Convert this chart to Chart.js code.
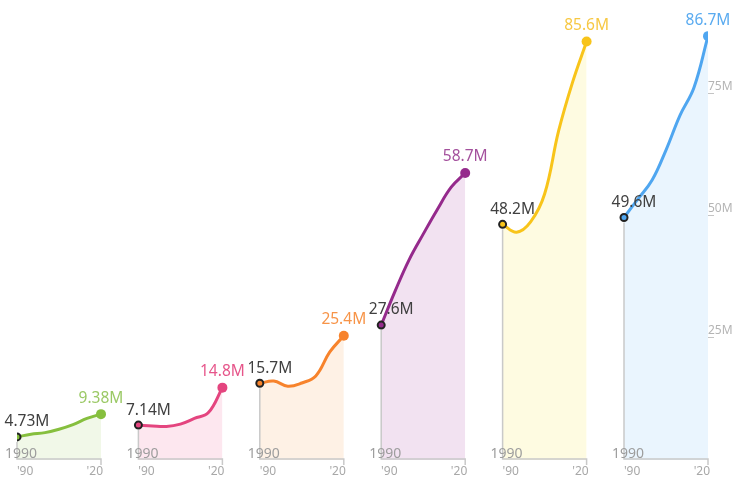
<!DOCTYPE html>
<html>
<head>
<meta charset="utf-8">
<script src="https://cdn.jsdelivr.net/npm/chart.js@4"></script>
<style>
  html, body { margin: 0; padding: 0; background: #fff; }
  #wrap { width: 733px; height: 486px; }
</style>
</head>
<body>
<div id="wrap"><canvas id="multiples"></canvas></div>
<script>
// population by year, millions
var years = [1990, 1995, 2000, 2005, 2010, 2015, 2020];
var greenValues  = [4.73, 5.25, 5.6, 6.3, 7.25, 8.5, 9.38];
var pinkValues   = [7.14, 6.95, 6.85, 7.35, 8.5, 9.7, 14.8];
var orangeValues = [15.7, 16.15, 15.1, 15.75, 17.2, 22.1, 25.4];
var purpleValues = [27.6, 34.6, 41.0, 46.2, 51.2, 55.8, 58.7];
var yellowValues = [48.2, 46.6, 48.7, 54.4, 67.3, 77.3, 85.6];
var blueValues   = [49.6, 53.4, 57.2, 63.4, 70.5, 76.2, 86.7];
var yTicks = [25, 50, 75];
var xTickLabels = ["'90", "'20"];

var panels = [
  { values: greenValues,  line: "#86bf3e", fill: "#f1f8e8", label: "#9bc966" },
  { values: pinkValues,   line: "#e4457f", fill: "#fde7ef", label: "#e6558a" },
  { values: orangeValues, line: "#f7832c", fill: "#fef1e5", label: "#f79448" },
  { values: purpleValues, line: "#952a8c", fill: "#f2e2f1", label: "#a4519d" },
  { values: yellowValues, line: "#f8c41a", fill: "#fefbe1", label: "#f7c843" },
  { values: blueValues,   line: "#4fa6f0", fill: "#eaf5fe", label: "#5aabf0" }
];

// each small multiple covers 30 years, panels start every PITCH units on one x scale
var SPAN = years[years.length - 1] - years[0];
var PITCH = 43.36;

function fmt(v) {
  return v.toPrecision(3) + "M";
}

var datasets = panels.map(function (p, i) {
  var last = p.values.length - 1;
  return {
    data: p.values.map(function (v, k) {
      return { x: i * PITCH + (years[k] - years[0]), y: v };
    }),
    borderColor: p.line,
    backgroundColor: p.fill,
    borderWidth: 3,
    fill: "origin",
    tension: 0.4,
    pointRadius: function (ctx) {
      return ctx.dataIndex === 0 ? 3.5 : (ctx.dataIndex === last ? 5 : 0);
    },
    pointBorderWidth: function (ctx) {
      return ctx.dataIndex === 0 ? 2 : 0;
    },
    pointBorderColor: "#222",
    pointBackgroundColor: p.line,
    pointHoverRadius: 0
  };
});

var panelDecor = {
  id: "panelDecor",
  afterDatasetsDraw: function (chart) {
    var c = chart.ctx;
    var yScale = chart.scales.y;
    var base = yScale.getPixelForValue(0);
    c.save();
    panels.forEach(function (p, i) {
      var pts = chart.getDatasetMeta(i).data;
      var first = pts[0];
      var end = pts[pts.length - 1];

      // drop line under the first point and the panel baseline
      c.strokeStyle = "#c9c9c9";
      c.lineWidth = 1.5;
      c.beginPath();
      c.moveTo(first.x, first.y + 5);
      c.lineTo(first.x, base - 1);
      c.lineTo(end.x, base - 1);
      c.lineTo(end.x, base + 5);
      c.stroke();

      c.font = "14px 'Noto Sans', sans-serif";
      c.fillStyle = "#9d9d9d";
      c.textAlign = "center";
      c.textBaseline = "bottom";
      c.fillText(String(years[0]), first.x + 4, base + 1);

      c.font = "15.5px 'Noto Sans', sans-serif";
      c.textBaseline = "middle";
      c.fillStyle = "#404040";
      c.fillText(fmt(p.values[0]), first.x + 10, first.y - 15);
      c.fillStyle = p.label;
      c.fillText(fmt(p.values[p.values.length - 1]), end.x, end.y - 16);
    });
    c.restore();
  }
};

var ctx = document.getElementById("multiples").getContext("2d");
var chart = new Chart(ctx, {
  type: "line",
  data: { datasets: datasets },
  plugins: [panelDecor],
  options: {
    responsive: true,
    maintainAspectRatio: false,
    animation: false,
    layout: { padding: { left: 17, top: 20, right: 0, bottom: 0 } },
    plugins: {
      legend: { display: false },
      tooltip: { enabled: false }
    },
    scales: {
      x: {
        type: "linear",
        min: 0,
        max: (panels.length - 1) * PITCH + SPAN,
        grid: { display: false },
        border: { display: false },
        afterBuildTicks: function (scale) {
          var t = [];
          panels.forEach(function (p, i) {
            t.push({ value: i * PITCH + 2.9 });
            t.push({ value: i * PITCH + SPAN - 2.2 });
          });
          scale.ticks = t;
        },
        afterFit: function (scale) { scale.height = 26; },
        ticks: {
          autoSkip: false,
          maxRotation: 0,
          padding: -4,
          color: "#a8a8a8",
          font: { family: "'Noto Sans', sans-serif", size: 12 },
          callback: function (value, index) {
            return xTickLabels[index % 2];
          }
        }
      },
      y: {
        position: "right",
        min: 0,
        max: 90,
        afterBuildTicks: function (scale) {
          scale.ticks = yTicks.map(function (v) { return { value: v }; });
        },
        afterFit: function (scale) { scale.width = 25; },
        grid: {
          drawOnChartArea: false,
          tickLength: 6,
          color: "#c4c4c4"
        },
        border: { display: false },
        ticks: {
          padding: -6,
          labelOffset: -7,
          color: "#b4b4b4",
          font: { family: "'Noto Sans', sans-serif", size: 12 },
          callback: function (value) {
            return value + "M";
          }
        }
      }
    }
  }
});
</script>
</body>
</html>
